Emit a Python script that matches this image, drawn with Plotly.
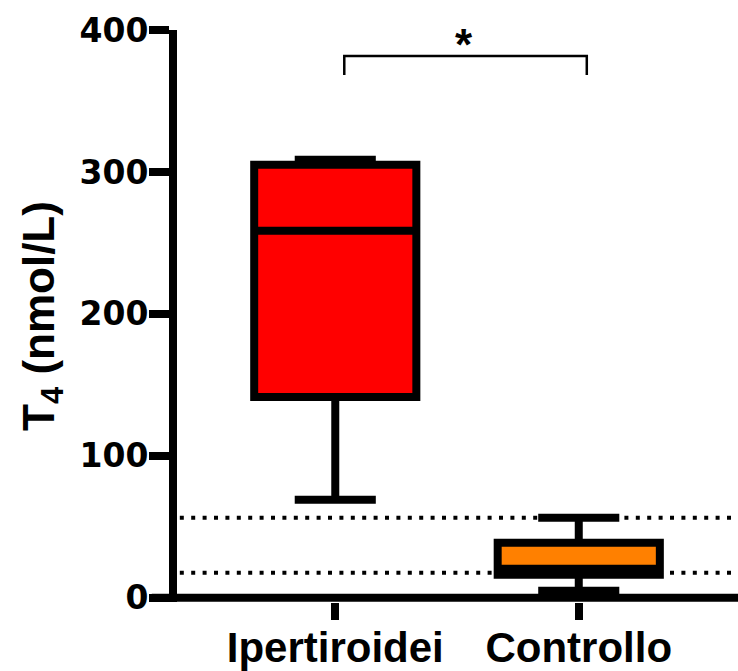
import plotly.graph_objects as go

# ---- data ----
categories = ["Ipertiroidei", "Controllo"]
q1 = [141.5, 16.2]
median = [258.5, 20.4]
q3 = [305.0, 38.7]
lower_whisker = [69.0, 4.9]
upper_whisker = [308.5, 56.3]
fill_colors = ["#FF0000", "#FF8000"]
reference_range = [17.6, 56.3]   # dotted reference lines
y_ticks = [0, 100, 200, 300, 400]
significance = "*"

positions = list(range(len(categories)))

fig = go.Figure()
for i, cat in enumerate(categories):
    fig.add_trace(go.Box(
        x=[positions[i]],
        q1=[q1[i]], median=[median[i]], q3=[q3[i]],
        lowerfence=[lower_whisker[i]], upperfence=[upper_whisker[i]],
        width=0.666, whiskerwidth=0.5,
        fillcolor=fill_colors[i],
        line=dict(color="black", width=8),
        boxpoints=False, name=cat, showlegend=False,
        hoverinfo="skip",
    ))

shapes = []
# dotted reference lines
for v in reference_range:
    shapes.append(dict(type="line", xref="paper", yref="y", x0=0.005, x1=1,
                       y0=v, y1=v, line=dict(color="black", width=4, dash="4px,7.4px"),
                       layer="below"))
# x axis line at y = 0 (extends left to the tick ends)
shapes.append(dict(type="line", xref="paper", yref="y", x0=-0.045, x1=1,
                   y0=0, y1=0, line=dict(color="black", width=8), layer="above"))
# significance bracket
bx0, bx1, by_top, by_bot = 0.037, 1.033, 381.7, 368.3
shapes.append(dict(type="path", xref="x", yref="y",
                   path=f"M {bx0},{by_bot} L {bx0},{by_top} L {bx1},{by_top} L {bx1},{by_bot}",
                   line=dict(color="black", width=2.5)))

fig.update_layout(
    width=738, height=671,
    margin=dict(l=177, r=0, t=30, b=69),
    paper_bgcolor="white", plot_bgcolor="white",
    shapes=shapes,
    annotations=[dict(x=0.527, y=390, xref="x", yref="y", text=significance,
                      showarrow=False, font=dict(family="Liberation Sans", size=44, color="black",
                                                 weight="bold"))],
    xaxis=dict(
        range=[-0.650, 1.654], tickmode="array", tickvals=positions, ticktext=categories,
        showline=False, showgrid=False, zeroline=False, automargin=False,
        ticks="outside", ticklen=17, tickwidth=8, tickcolor="black",
        ticklabelstandoff=-8,
        tickfont=dict(family="Liberation Sans", size=42, color="black", weight="bold"),
    ),
    yaxis=dict(
        range=[-3, 400], tickmode="array", tickvals=y_ticks, automargin=False,
        showline=True, linewidth=8, linecolor="black",
        showgrid=False, zeroline=False,
        ticks="outside", ticklen=20, tickwidth=8, tickcolor="black",
        ticklabelstandoff=-6,
        tickfont=dict(family="DejaVu Sans", size=33, color="black", weight="bold"),
        title=dict(text="T<sub>4</sub> (nmol/L)", standoff=14,
                   font=dict(family="Liberation Sans", size=44, color="black", weight="bold")),
    ),
)

fig.write_html("out.html")
